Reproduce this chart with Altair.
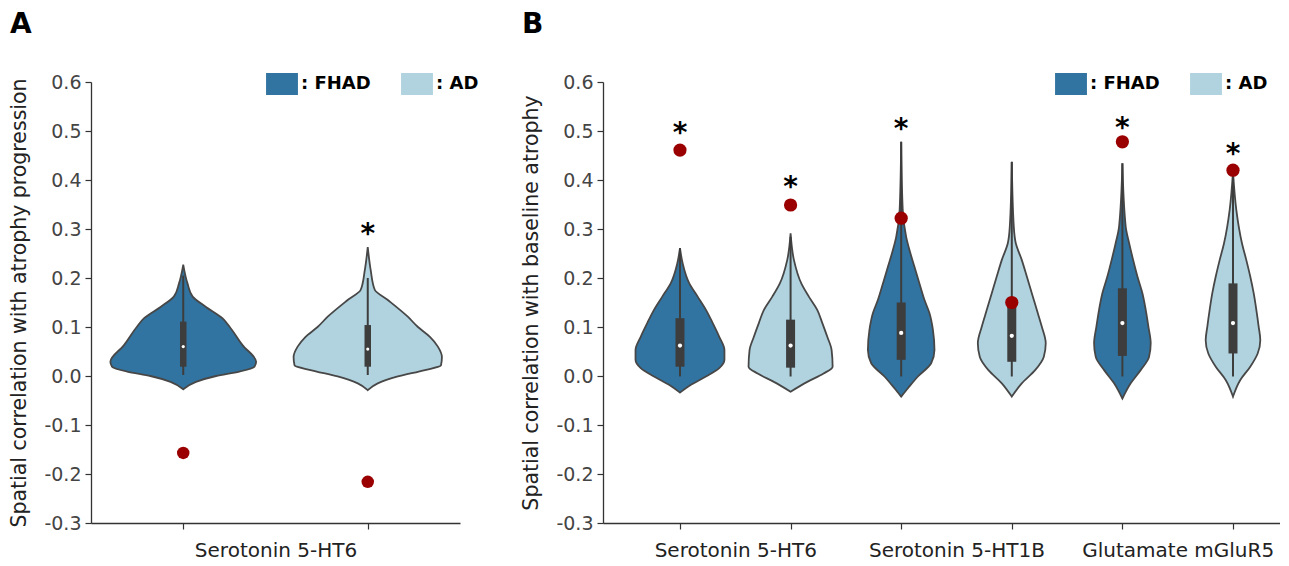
import altair as alt
import pandas as pd

FONT = "DejaVu Sans"
GROUPS = ["FHAD", "AD"]
COLORS = ["#3274a1", "#b1d3df"]
Y_TICKS = [-0.3, -0.2, -0.1, 0.0, 0.1, 0.2, 0.3, 0.4, 0.5, 0.6]

# ---------------- Panel A ----------------
A_names = ["Serotonin 5-HT6"]
A_group = ["FHAD", "AD"]
A_pos = [0, 1]
A_v_fhad = [-0.027, -0.012, 0.0, 0.009, 0.019, 0.029, 0.063, 0.101, 0.118, 0.141, 0.162, 0.189, 0.227]
A_w_fhad = [0.0, 0.069, 0.178, 0.304, 0.386, 0.395, 0.321, 0.25, 0.212, 0.123, 0.051, 0.023, 0.0]
A_v_ad = [-0.029, -0.015, -0.001, 0.012, 0.022, 0.039, 0.06, 0.080, 0.10, 0.121, 0.155, 0.176, 0.216, 0.263]
A_w_ad = [0.0, 0.054, 0.163, 0.31, 0.397, 0.402, 0.38, 0.337, 0.272, 0.217, 0.109, 0.038, 0.016, 0.0]
A_q1 = [0.019, 0.019]
A_q3 = [0.111, 0.104]
A_med = [0.060, 0.055]
A_wlo = [0.002, 0.002]
A_whi = [0.205, 0.200]
A_obs = [-0.157, -0.216]
A_star = [None, 0.302]

# ---------------- Panel B ----------------
B_names = ["Serotonin 5-HT6", "Serotonin 5-HT1B", "Glutamate mGluR5"]
B_group = ["FHAD", "AD", "FHAD", "AD", "FHAD", "AD"]
B_pos = [0, 1, 2, 3, 4, 5]
B_v1 = [-0.034, -0.018, -0.001, 0.016, 0.033, 0.053, 0.080, 0.108, 0.135, 0.162, 0.189, 0.230, 0.261]
B_w1 = [0.0, 0.099, 0.235, 0.355, 0.402, 0.402, 0.355, 0.296, 0.235, 0.16, 0.084, 0.024, 0.0]
B_v2 = [-0.032, -0.012, 0.005, 0.019, 0.053, 0.080, 0.108, 0.135, 0.162, 0.189, 0.237, 0.291]
B_w2 = [0.0, 0.151, 0.298, 0.38, 0.371, 0.332, 0.287, 0.241, 0.165, 0.097, 0.03, 0.0]
B_v3 = [-0.042, -0.025, -0.001, 0.026, 0.053, 0.094, 0.128, 0.155, 0.189, 0.223, 0.257, 0.284, 0.339, 0.478]
B_w3 = [0.0, 0.061, 0.151, 0.271, 0.301, 0.287, 0.256, 0.211, 0.165, 0.12, 0.075, 0.045, 0.014, 0.0]
B_v4 = [-0.042, -0.015, 0.012, 0.039, 0.067, 0.101, 0.135, 0.169, 0.203, 0.237, 0.271, 0.305, 0.437]
B_w4 = [0.0, 0.09, 0.211, 0.289, 0.307, 0.271, 0.226, 0.181, 0.136, 0.09, 0.036, 0.018, 0.0]
B_v5 = [-0.046, -0.015, 0.012, 0.039, 0.067, 0.101, 0.135, 0.169, 0.203, 0.237, 0.271, 0.305, 0.434]
B_w5 = [0.0, 0.075, 0.165, 0.241, 0.256, 0.235, 0.211, 0.181, 0.136, 0.097, 0.061, 0.03, 0.0]
B_v6 = [-0.042, -0.008, 0.019, 0.046, 0.073, 0.101, 0.135, 0.169, 0.203, 0.237, 0.271, 0.305, 0.339, 0.417]
B_w6 = [0.0, 0.066, 0.156, 0.223, 0.247, 0.232, 0.211, 0.187, 0.156, 0.12, 0.081, 0.052, 0.03, 0.0]
B_q1 = [0.019, 0.017, 0.033, 0.029, 0.041, 0.046]
B_q3 = [0.118, 0.115, 0.150, 0.141, 0.179, 0.189]
B_med = [0.062, 0.062, 0.088, 0.082, 0.108, 0.108]
B_wlo = [-0.001, -0.001, -0.001, -0.001, -0.001, -0.001]
B_whi = [0.261, 0.284, 0.478, 0.437, 0.434, 0.417]
B_obs = [0.461, 0.349, 0.322, 0.150, 0.478, 0.420]
B_star = [0.509, 0.397, 0.516, None, 0.519, 0.465]


def panel(title, ytitle, names, groups, pos, pv, pw, q1, q3, med, wlo, whi, obs,
          star, xdom, width, legend_x, box_w, med_size, dot_size):
    rows = []
    for i, (p, g) in enumerate(zip(pos, groups)):
        for v, w in zip(pv[i], pw[i]):
            rows.append(dict(vid=i, group=g, v=v, lo=p - w, hi=p + w))
    vdf = pd.DataFrame(rows)
    sdf = pd.DataFrame(dict(pos=pos, group=groups, q1=q1, q3=q3, med=med,
                            wlo=wlo, whi=whi, obs=obs))
    tdf = pd.DataFrame([dict(pos=p, star=s) for p, s in zip(pos, star) if s is not None])

    px_per_unit = width / (xdom[1] - xdom[0])
    lab_pos = pos[::2]
    expr = "''"
    for p, n in reversed(list(zip(lab_pos, names))):
        expr = f"datum.value == {p} ? '{n}' : ({expr})"

    xs = alt.Scale(domain=xdom, nice=False, zero=False)
    ys = alt.Scale(domain=[-0.3, 0.6], nice=False, zero=False)
    xaxis = alt.Axis(values=pos, labelExpr=expr, title=None, grid=False, tickSize=6,
                     labelOffset={"condition": {"test": "datum.value % 2 == 1", "value": 0},
                                  "value": px_per_unit / 2},
                     labelOverlap=False, labelPadding=11,
                     labelFont=FONT, labelFontSize=20, labelColor="#222",
                     labelLimit=400,
                     domainColor="#333", tickColor="#333", domainWidth=1.3,
                     tickWidth=1.2, labelFlush=False)
    yaxis = alt.Axis(values=Y_TICKS,
                     labelExpr="replace(format(datum.value, '.1f'), '\u2212', '-')",
                     title=ytitle, titleFont=FONT, titleFontSize=20.5,
                     titleFontWeight="normal", titleColor="#222", titlePadding=14,
                     labelFont=FONT, labelFontSize=19, labelColor="#444",
                     labelPadding=4, tickSize=6, tickColor="#333", tickWidth=1.2,
                     domainColor="#333", domainWidth=1.3, grid=False)

    def X(f, **kw):
        return alt.X(f, scale=xs, axis=xaxis, **kw)

    def Y(f):
        return alt.Y(f, scale=ys, axis=yaxis)

    leg = alt.Legend(title=None, orient="none", legendX=legend_x, legendY=-9,
                     direction="horizontal",
                     symbolType="M-1.45,-1H1.45V1H-1.45Z", symbolSize=484,
                     symbolStrokeWidth=0, symbolOpacity=1,
                     labelExpr="': ' + datum.label", labelFont=FONT,
                     labelFontSize=18, labelFontWeight="bold", labelColor="#000",
                     labelOffset=8, columnPadding=30)

    area = alt.Chart(vdf).mark_area(
        orient="horizontal", interpolate="monotone", stroke="#474747",
        strokeWidth=1.8, opacity=1, fillOpacity=1
    ).encode(
        y=Y("v:Q"),
        x=X("lo:Q", stack=None),
        x2="hi:Q",
        color=alt.Color("group:N", scale=alt.Scale(domain=GROUPS, range=COLORS),
                        legend=leg, sort=GROUPS),
        detail="vid:N",
    )
    whisk = alt.Chart(sdf).mark_rule(color="#3d3d3d", strokeWidth=2).encode(
        x=X("pos:Q"), y=Y("wlo:Q"), y2="whi:Q")
    box = alt.Chart(sdf).mark_rule(color="#3d3d3d", strokeWidth=box_w,
                                   strokeCap="butt").encode(
        x=X("pos:Q"), y=Y("q1:Q"), y2="q3:Q")
    medp = alt.Chart(sdf).mark_circle(color="white", size=med_size, opacity=1).encode(
        x=X("pos:Q"), y=Y("med:Q"))
    dots = alt.Chart(sdf).mark_circle(color="#9a0000", size=dot_size, opacity=1).encode(
        x=X("pos:Q"), y=Y("obs:Q"))
    stars = alt.Chart(tdf).mark_text(text="*", font=FONT, fontSize=28,
                                     fontWeight="bold", color="#000",
                                     baseline="alphabetic", dy=15).encode(
        x=X("pos:Q"), y=Y("star:Q"))

    return alt.layer(area, whisk, box, medp, dots, stars).properties(
        width=width, height=441,
        title=alt.TitleParams(title, anchor="start", font=FONT, fontSize=28,
                              fontWeight="bold", color="#000", offset=34),
    )


pA = panel("A", "Spatial correlation with atrophy progression", A_names, A_group,
           A_pos, [A_v_fhad, A_v_ad], [A_w_fhad, A_w_ad], A_q1, A_q3, A_med,
           A_wlo, A_whi, A_obs, A_star, [-0.5, 1.5], 369, 180, 6.5, 10, 155)
pB = panel("B", "Spatial correlation with baseline atrophy", B_names, B_group,
           B_pos, [B_v1, B_v2, B_v3, B_v4, B_v5, B_v6],
           [B_w1, B_w2, B_w3, B_w4, B_w5, B_w6], B_q1, B_q3, B_med,
           B_wlo, B_whi, B_obs, B_star, [-0.696, 5.425], 677, 457, 9, 18, 175)

chart = alt.hconcat(pA, pB, spacing=42).resolve_scale(
    x="independent", y="independent", color="independent"
).resolve_legend(color="independent").properties(
    padding={"left": 1, "top": 3, "right": 0, "bottom": 0}
).configure_view(stroke=None)

chart.save("out.html", embed_options={"renderer": "svg", "actions": False})
